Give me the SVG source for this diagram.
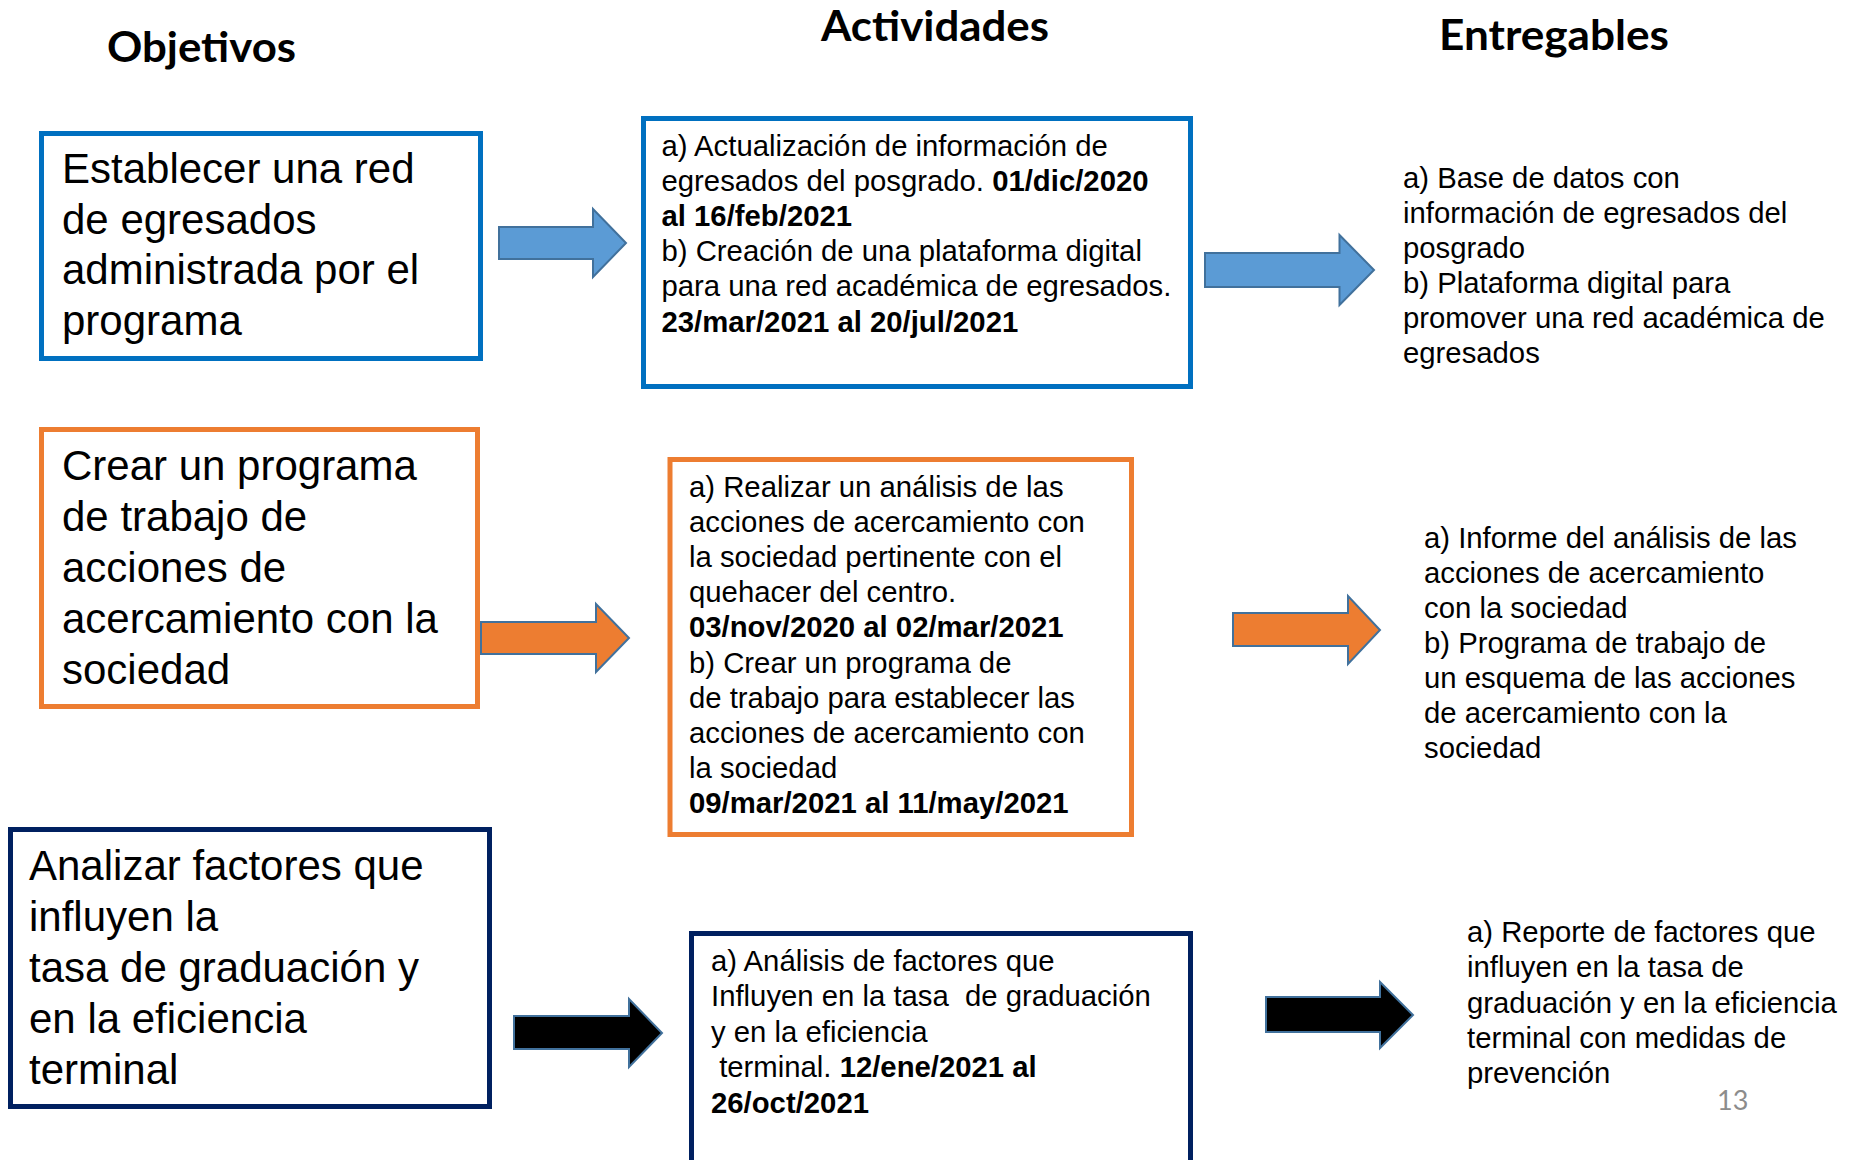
<svg xmlns="http://www.w3.org/2000/svg" width="1856" height="1160" viewBox="0 0 1856 1160">
<style>
.bg{fill:#ffffff}
.head{font-family:Lato,"Open Sans","Liberation Sans",sans-serif;font-weight:700;font-size:42px;fill:#000}
.big{font-family:"Liberation Sans",Arial,sans-serif;font-size:42px;fill:#000}
.txt{font-family:"Liberation Sans",Arial,sans-serif;font-size:29.3px;fill:#000}
.b{font-weight:700}
.box{fill:#ffffff;stroke-width:5}
.blue{stroke:#0070C0}
.orange{stroke:#ED7D31}
.navy{stroke:#002060}
.arrow{stroke:#41719C;stroke-width:2;stroke-linejoin:miter}
.pg{font-family:Lato,"Open Sans",sans-serif;font-size:27px;fill:#8C8C8C}
</style>
<rect class="bg" x="0" y="0" width="1856" height="1160"/>

<g id="headings">
<text class="head" x="107" y="62" textLength="189" lengthAdjust="spacingAndGlyphs">Objetivos</text>
<text class="head" x="821" y="41" textLength="228" lengthAdjust="spacingAndGlyphs">Actividades</text>
<text class="head" x="1439" y="50" textLength="230" lengthAdjust="spacingAndGlyphs">Entregables</text>
</g>

<g id="obj1">
<rect class="box blue" x="41.5" y="133.5" width="439" height="225"/>
<text class="big" x="62" y="183">Establecer una red</text>
<text class="big" x="62" y="233.5">de egresados</text>
<text class="big" x="62" y="284">administrada por el</text>
<text class="big" x="62" y="334.5">programa</text>
</g>

<g id="act1">
<rect class="box blue" x="643.5" y="118.5" width="547" height="268"/>
<text class="txt" x="661.5" y="155.5">a) Actualización de información de</text>
<text class="txt" x="661.5" y="190.7">egresados del posgrado. <tspan class="b">01/dic/2020</tspan></text>
<text class="txt b" x="661.5" y="225.9">al 16/feb/2021</text>
<text class="txt" x="661.5" y="261.1">b) Creación de una plataforma digital</text>
<text class="txt" x="661.5" y="296.3">para una red académica de egresados.</text>
<text class="txt b" x="661.5" y="331.5">23/mar/2021 al 20/jul/2021</text>
</g>

<g id="ent1">
<text class="txt" x="1403" y="188">a) Base de datos con</text>
<text class="txt" x="1403" y="223">información de egresados del</text>
<text class="txt" x="1403" y="258">posgrado</text>
<text class="txt" x="1403" y="293">b) Plataforma digital para</text>
<text class="txt" x="1403" y="328">promover una red académica de</text>
<text class="txt" x="1403" y="363">egresados</text>
</g>

<g id="obj2">
<rect class="box orange" x="41.5" y="429.5" width="436" height="277"/>
<text class="big" x="62" y="480">Crear un programa</text>
<text class="big" x="62" y="531">de trabajo de</text>
<text class="big" x="62" y="582">acciones de</text>
<text class="big" x="62" y="633">acercamiento con la</text>
<text class="big" x="62" y="683.5">sociedad</text>
</g>

<g id="act2">
<rect class="box orange" x="670" y="459.5" width="461.5" height="375"/>
<text class="txt" x="689" y="497">a) Realizar un análisis de las</text>
<text class="txt" x="689" y="532.1">acciones de acercamiento con</text>
<text class="txt" x="689" y="567.2">la sociedad pertinente con el</text>
<text class="txt" x="689" y="602.3">quehacer del centro.</text>
<text class="txt b" x="689" y="637.4">03/nov/2020 al 02/mar/2021</text>
<text class="txt" x="689" y="672.5">b) Crear un programa de</text>
<text class="txt" x="689" y="707.6">de trabajo para establecer las</text>
<text class="txt" x="689" y="742.7">acciones de acercamiento con</text>
<text class="txt" x="689" y="777.8">la sociedad</text>
<text class="txt b" x="689" y="812.9">09/mar/2021 al 11/may/2021</text>
</g>

<g id="ent2">
<text class="txt" x="1424" y="548">a) Informe del análisis de las</text>
<text class="txt" x="1424" y="583">acciones de acercamiento</text>
<text class="txt" x="1424" y="618">con la sociedad</text>
<text class="txt" x="1424" y="653">b) Programa de trabajo de</text>
<text class="txt" x="1424" y="688">un esquema de las acciones</text>
<text class="txt" x="1424" y="723">de acercamiento con la</text>
<text class="txt" x="1424" y="758">sociedad</text>
</g>

<g id="obj3">
<rect class="box navy" x="10.5" y="829.5" width="479" height="277"/>
<text class="big" x="29" y="880">Analizar factores que</text>
<text class="big" x="29" y="931">influyen la</text>
<text class="big" x="29" y="982">tasa de graduación y</text>
<text class="big" x="29" y="1033">en la eficiencia</text>
<text class="big" x="29" y="1083.5">terminal</text>
</g>

<g id="act3">
<rect class="box navy" x="691.5" y="933.5" width="499" height="260"/>
<text class="txt" x="711" y="970.5">a) Análisis de factores que</text>
<text class="txt" x="711" y="1006" xml:space="preserve">Influyen en la tasa  de graduación</text>
<text class="txt" x="711" y="1041.5">y en la eficiencia</text>
<text class="txt" x="711" y="1077" xml:space="preserve"> terminal. <tspan class="b">12/ene/2021 al</tspan></text>
<text class="txt b" x="711" y="1112.5">26/oct/2021</text>
</g>

<g id="ent3">
<text class="txt" x="1467" y="942">a) Reporte de factores que</text>
<text class="txt" x="1467" y="977.3">influyen en la tasa de</text>
<text class="txt" x="1467" y="1012.6">graduación y en la eficiencia</text>
<text class="txt" x="1467" y="1047.9">terminal con medidas de</text>
<text class="txt" x="1467" y="1083.2">prevención</text>
</g>

<g id="connectors">
<polygon class="arrow" fill="#5B9BD5" points="499,227 593,227 593,209 626,243 593,277 593,259 499,259"/>
<polygon class="arrow" fill="#5B9BD5" points="1205,253 1339.5,253 1339.5,235 1374,270 1339.5,305 1339.5,287 1205,287"/>
<polygon class="arrow" fill="#ED7D31" points="481,622 596,622 596,604 629,638 596,672 596,654 481,654"/>
<polygon class="arrow" fill="#ED7D31" points="1233,613 1348,613 1348,596 1380,630 1348,664 1348,646 1233,646"/>
<polygon class="arrow" fill="#000000" points="514,1016 629,1016 629,999 662,1033 629,1067 629,1049 514,1049"/>
<polygon class="arrow" fill="#000000" points="1266,997 1380,997 1380,982 1413,1015 1380,1048 1380,1032 1266,1032"/>
</g>

<g id="page-number">
<text class="pg" x="1717" y="1110">13</text>
</g>
</svg>
